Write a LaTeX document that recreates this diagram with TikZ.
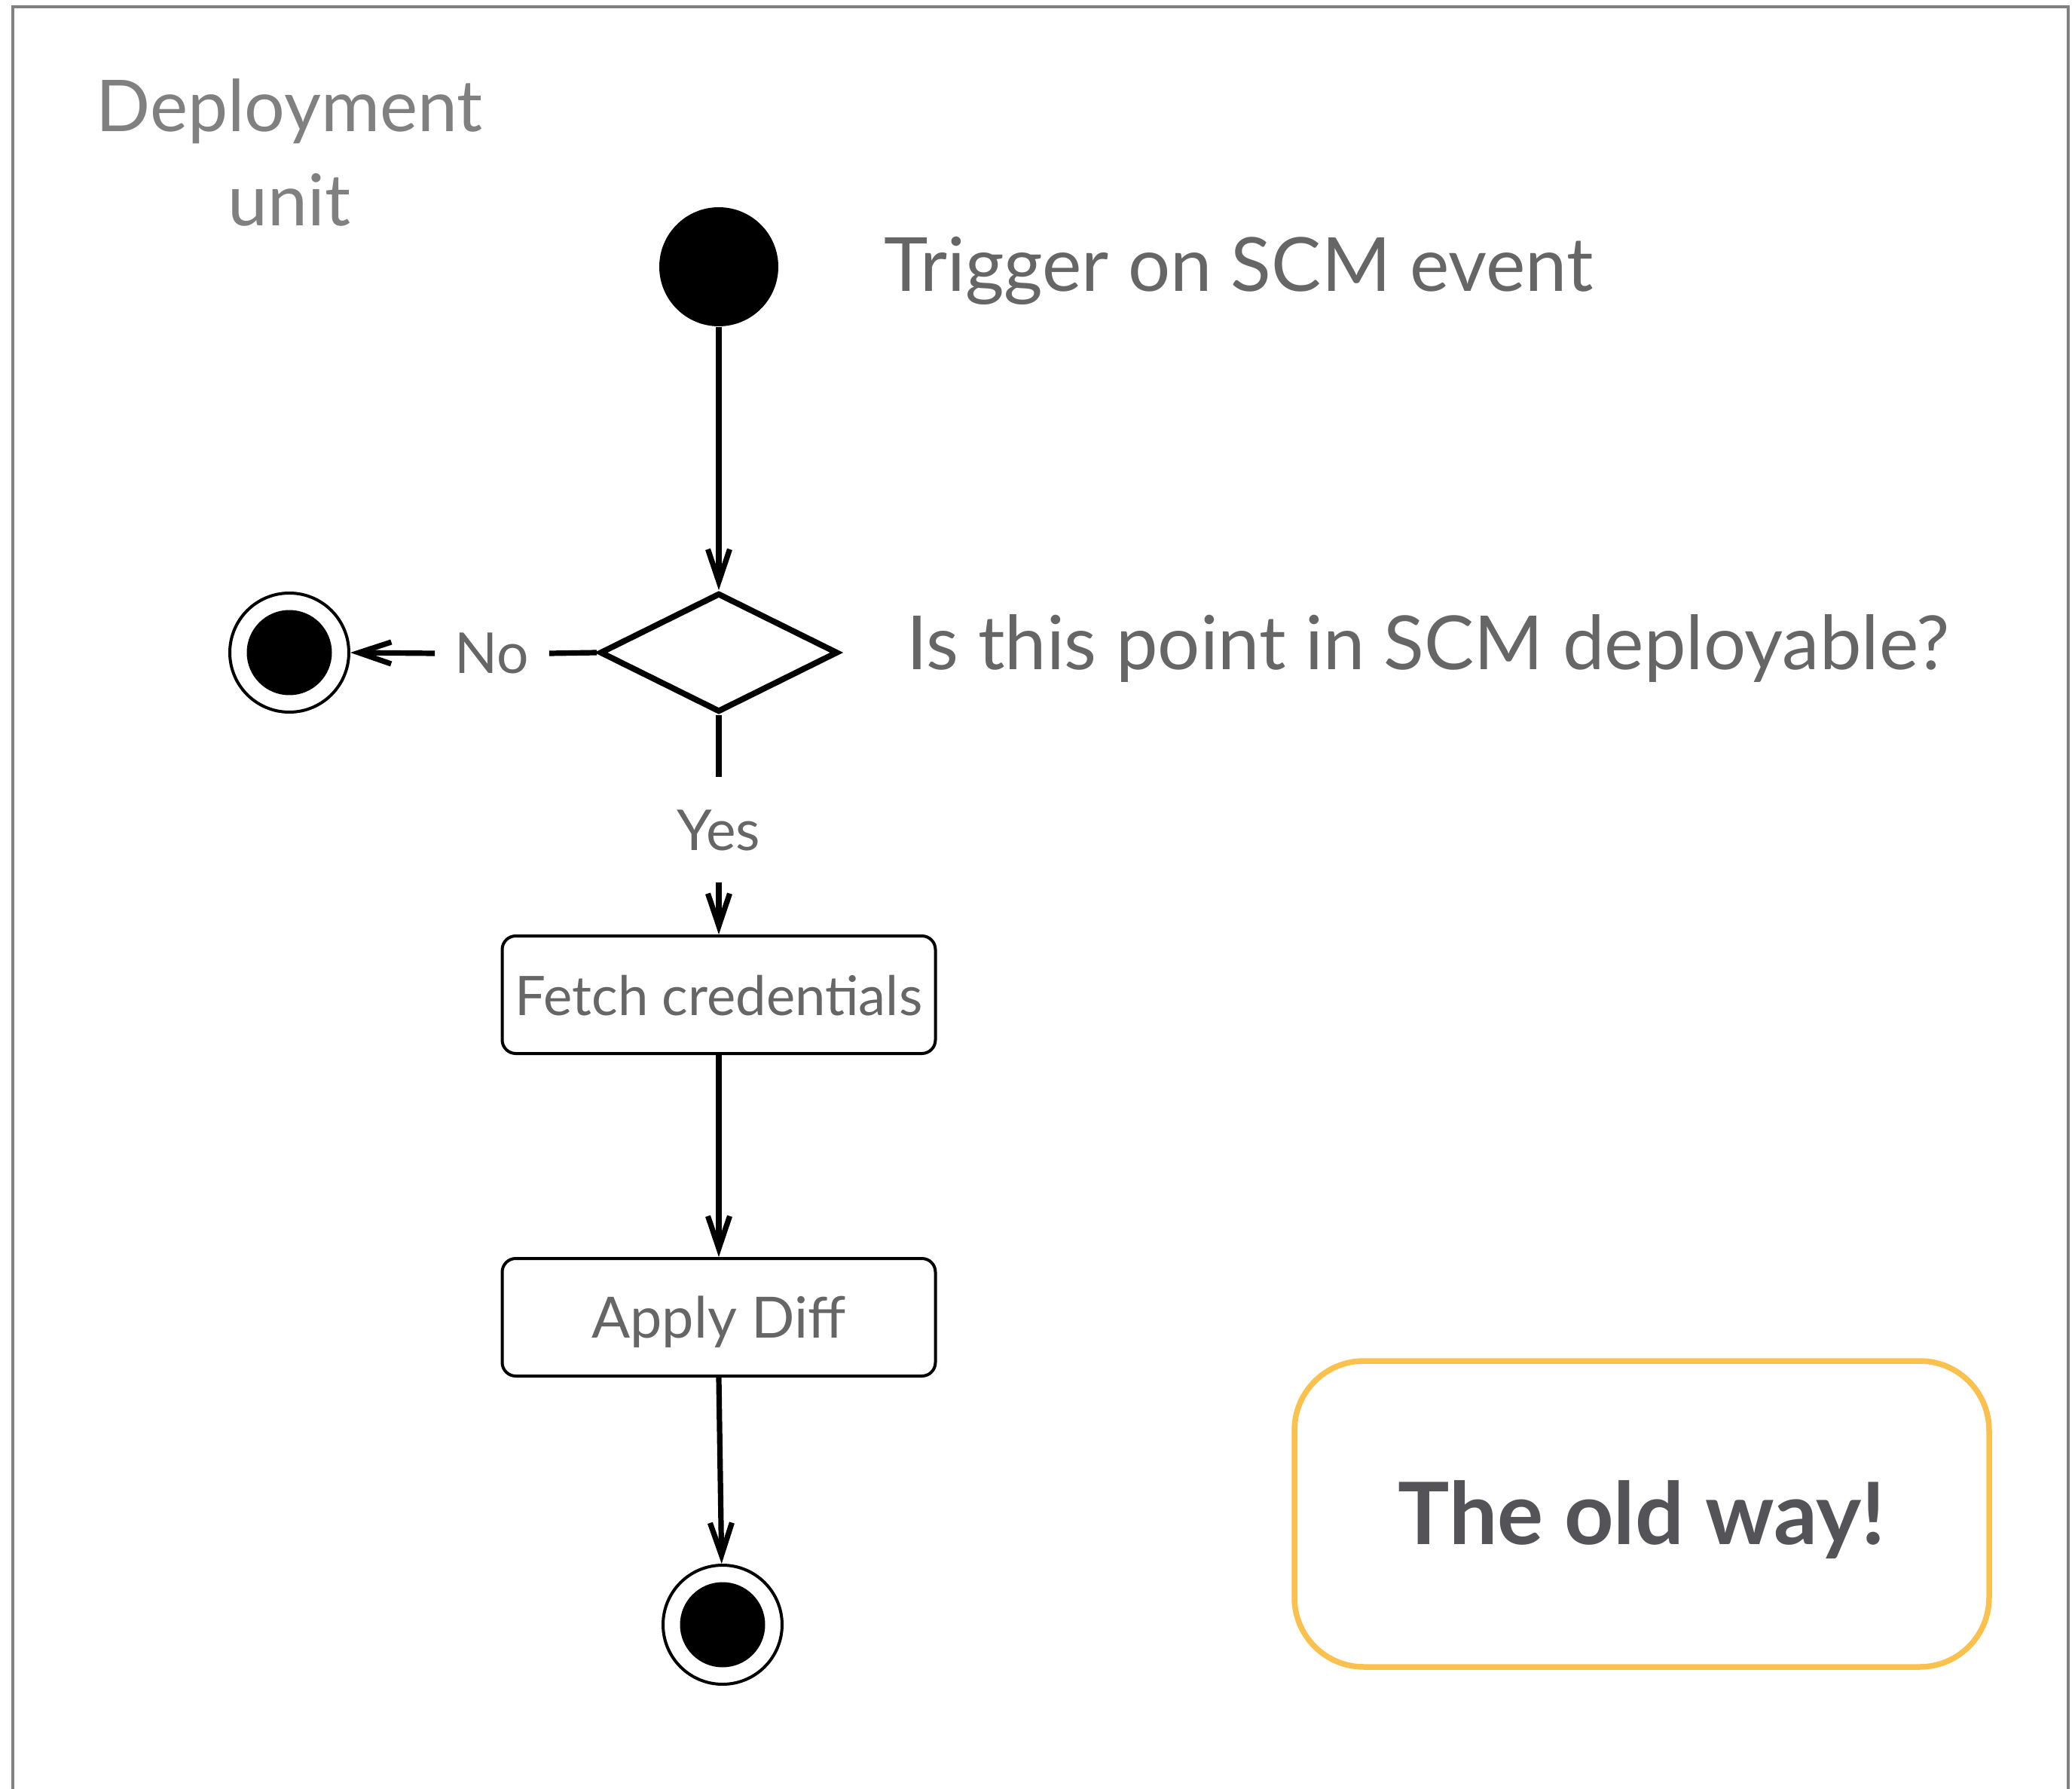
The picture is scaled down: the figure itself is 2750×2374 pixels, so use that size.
\documentclass[tikz,border=0pt]{standalone}
\usepackage{fontspec}
\setmainfont{Lato}
\usetikzlibrary{arrows.meta,shapes.geometric}

\definecolor{framegray}{HTML}{808080}
\definecolor{textgray}{HTML}{666666}
\definecolor{boldgray}{HTML}{545458}
\definecolor{notegold}{HTML}{FBC14F}

\tikzset{
  conn/.style={line width=0.72mm, black},
  flow/.style={conn, -{Straight Barb[length=4.3mm,width=2.9mm]}},
  startdot/.style={circle, fill=black, minimum size=15.8mm, inner sep=0pt},
  endring/.style={circle, draw=black, line width=0.4mm, fill=white,
    minimum size=15.8mm, inner sep=0pt,
    path picture={\fill[black] (path picture bounding box.center) circle (5.65mm);}},
  decision/.style={diamond, draw=black, line width=0.78mm, fill=white,
    minimum width=31.6mm, minimum height=15.8mm, inner sep=0pt, aspect=2},
  actbox/.style={rectangle, rounded corners=1.8mm, draw=black, line width=0.4mm,
    minimum width=57.5mm, minimum height=15.6mm, inner sep=0pt,
    text=textgray, text height=5.4mm, text depth=0pt},
  bigtext/.style={text=textgray, font=\fontsize{28.2pt}{34pt}\selectfont, inner sep=0pt},
  guard/.style={text=textgray, font=\fontsize{21.3pt}{26pt}\selectfont,
    text height=5.4mm, text depth=0pt},
  notebox/.style={rectangle, rounded corners=9.2mm, draw=notegold, line width=0.75mm,
    minimum width=92.2mm, minimum height=40.6mm, inner sep=0pt,
    text=boldgray, font=\fontsize{32.5pt}{38pt}\selectfont\bfseries,
    text height=8.1mm, text depth=0pt},
}

\begin{document}
\begin{tikzpicture}[x=0.1mm, y=-0.1mm]
  \useasboundingbox (0,0) rectangle (2750,2374);
  \clip (0,0) rectangle (2750,2374);

  % swimlane frame (open at the bottom edge of the page)
  \draw[framegray, line width=0.42mm] (17,2400) -- (17,9) -- (2745,9) -- (2745,2400);

  % lane title (base anchor sits on the last line)
  \node[text=framegray, font=\fontsize{27pt}{35.6pt}\selectfont, align=center,
        inner sep=0pt, anchor=base] (lane) at (384,300) {Deployment\\unit};

  % activity nodes
  \node[startdot] (start) at (954,354) {};
  \node[decision] (dec) at (954,866) {};
  \node[endring] (endNo) at (384,866) {};
  \node[actbox, font=\fontsize{20.6pt}{25pt}\selectfont] (fetch) at (954,1320) {Fetch credentials};
  \node[actbox, font=\fontsize{21.5pt}{26pt}\selectfont] (apply) at (954,1748) {Apply Diff};
  \node[endring] (endMain) at (959,2156) {};

  % annotations
  \node[bigtext, anchor=base west] (trigger) at (1173,387) {Trigger on SCM event};
  \node[bigtext, anchor=base west] (question) at (1203,889) {Is this point in SCM deployable?};

  % guard labels
  \node[guard, inner xsep=2.6mm, inner ysep=0pt] (no) at (653,867) {No};
  \node[guard, inner xsep=0pt, inner ysep=4.2mm] (yes) at (954,1101) {Yes};

  % flows
  \draw[flow] (start) -- (dec.north);
  \draw[conn] (dec.west) -- (no.east);
  \draw[flow] (no.west) -- (endNo.east);
  \draw[conn] (dec.south) -- (yes.north);
  \draw[flow] (yes.south) -- (fetch.north);
  \draw[flow] (fetch) -- (apply);
  \draw[flow] (apply.south) -- (endMain);

  % side note
  \node[notebox] (note) at (2179,2009) {The old way!};
\end{tikzpicture}
\end{document}
